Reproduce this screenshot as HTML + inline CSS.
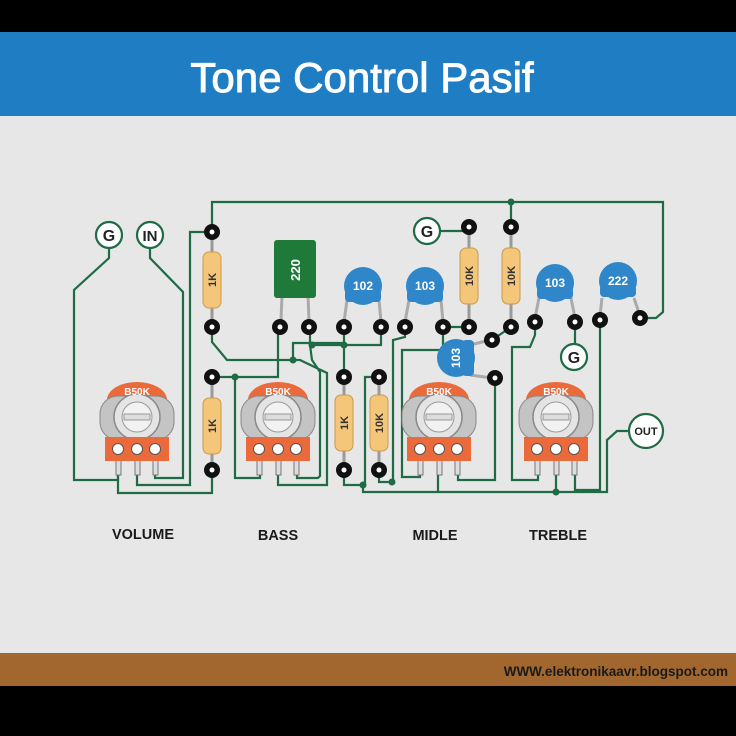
<!DOCTYPE html>
<html><head><meta charset="utf-8"><style>
html,body{margin:0;padding:0;background:#000;}
svg{display:block;}
text{font-family:"Liberation Sans",Arial,sans-serif;}
</style></head><body>
<svg width="736" height="736" viewBox="0 0 736 736" xmlns="http://www.w3.org/2000/svg">
<rect x="0" y="0" width="736" height="736" fill="#000"/>
<rect x="0" y="32" width="736" height="84" fill="#1f7ec3"/>
<text x="362" y="92" text-anchor="middle" font-size="42" fill="#fff" stroke="#fff" stroke-width="0.9">Tone Control Pasif</text>
<rect x="0" y="116" width="736" height="537" fill="#e7e7e7"/>
<rect x="0" y="653" width="736" height="33" fill="#a2672e"/>
<text x="728" y="676" text-anchor="end" font-size="13.5" font-weight="bold" fill="#1a1a1a">WWW.elektronikaavr.blogspot.com</text>

<g fill="none" stroke="#1e6b45" stroke-width="2.2">
<path d="M212 232 V202 H663 V312 L656 318 H640"/>
<path d="M511 202 V227"/>
<path d="M109 248 V258 L74 290 V480 H118 V472"/>
<path d="M150 248 V258 L183 292 V478 H155 V472"/>
<path d="M212 232 H190 V485 H137 V472"/>
<path d="M118 472 V493 H212 V470"/>
<path d="M212 327 V342 L227 360 H293 L300 360 L327 373 V485 H278 V472"/>
<path d="M212 377 H278 V327"/>
<path d="M235 377 V478 H260 V472"/>
<path d="M297 472 V478 H318 L320 476 V372 L312 360 L310 345 V327"/>
<path d="M293 360 V343 H344 V377"/>
<path d="M312 345 H344 L381 345 V327"/>
<path d="M344 327 V345"/>
<path d="M344 470 V485 H363 V492 H556 V472"/>
<path d="M379 377 H365 V485"/>
<path d="M379 470 V482 H393 V340 L405 337 V327"/>
<path d="M443 327 V350 H402 V477 H420 V472"/>
<path d="M443 327 H469"/>
<path d="M438 472 V492"/>
<path d="M495 378 V480 H458 V472"/>
<path d="M492 340 L511 327"/>
<path d="M427 231 H469"/>
<path d="M538 472 V480 H512 V347 H530 L535 335 V322"/>
<path d="M575 472 V490 H600 V320"/>
<path d="M575 322 V344"/>
<path d="M556 492 H607 V440 L617 431 H630"/>
</g>
<g fill="#1e6b45">
<circle cx="511" cy="202" r="3.5"/><circle cx="293" cy="360" r="3.5"/><circle cx="235" cy="377" r="3.5"/>
<circle cx="312" cy="345" r="3.5"/><circle cx="344" cy="345" r="3.5"/><circle cx="363" cy="485" r="3.5"/>
<circle cx="392" cy="482" r="3.5"/><circle cx="556" cy="492" r="3.5"/>
</g>

<g fill="#fff" stroke="#1e6b45" stroke-width="2.2">
<circle cx="109" cy="235" r="13"/><circle cx="150" cy="235" r="13"/>
<circle cx="427" cy="231" r="13"/><circle cx="574" cy="357" r="13"/>
<circle cx="646" cy="431" r="17"/>
</g>
<g font-weight="bold" text-anchor="middle" fill="#222">
<text x="109" y="241" font-size="16">G</text><text x="150" y="241" font-size="15">IN</text>
<text x="427" y="237" font-size="16">G</text><text x="574" y="363" font-size="16">G</text>
<text x="646" y="435" font-size="11">OUT</text>
</g>

<g>
<line x1="282" y1="296" x2="281" y2="320" stroke="#aaa" stroke-width="3"/>
<line x1="308" y1="296" x2="309" y2="320" stroke="#aaa" stroke-width="3"/>
<rect x="274" y="240" width="42" height="58" rx="3" fill="#1f7a3a"/>
<text transform="translate(300 270) rotate(-90)" font-size="13" font-weight="bold" fill="#fff" text-anchor="middle">220</text>
</g>

<g stroke="#9a9a9a" stroke-width="3">
<line x1="212" y1="232" x2="212" y2="327"/><line x1="212" y1="377" x2="212" y2="470"/>
<line x1="344" y1="377" x2="344" y2="470"/><line x1="379" y1="377" x2="379" y2="470"/>
<line x1="469" y1="227" x2="469" y2="327"/><line x1="511" y1="227" x2="511" y2="327"/>
</g>
<g fill="#f4c679" stroke="#c99a4f" stroke-width="1">
<rect x="203" y="252" width="18" height="56" rx="6"/><rect x="203" y="398" width="18" height="56" rx="6"/>
<rect x="335" y="395" width="18" height="56" rx="6"/><rect x="370" y="395" width="18" height="56" rx="6"/>
<rect x="460" y="248" width="18" height="56" rx="6"/><rect x="502" y="248" width="18" height="56" rx="6"/>
</g>
<g font-size="11" font-weight="bold" fill="#333" text-anchor="middle">
<text transform="translate(216 280) rotate(-90)">1K</text>
<text transform="translate(216 426) rotate(-90)">1K</text>
<text transform="translate(348 423) rotate(-90)">1K</text>
<text transform="translate(383 423) rotate(-90)">10K</text>
<text transform="translate(473 276) rotate(-90)">10K</text>
<text transform="translate(515 276) rotate(-90)">10K</text>
</g>

<g stroke="#aaa" stroke-width="3">
<line x1="347" y1="300" x2="344" y2="322"/><line x1="379" y1="300" x2="381" y2="322"/>
<line x1="409" y1="300" x2="405" y2="322"/><line x1="441" y1="300" x2="443" y2="322"/>
<line x1="539" y1="298" x2="535" y2="318"/><line x1="571" y1="298" x2="575" y2="318"/>
<line x1="602" y1="298" x2="600" y2="316"/><line x1="634" y1="298" x2="640" y2="316"/>
<line x1="470" y1="345" x2="490" y2="340"/><line x1="470" y1="375" x2="492" y2="378"/>
</g>
<g fill="#2f87c9">
<circle cx="363" cy="286" r="19"/><rect x="345" y="290" width="36" height="12" rx="4"/>
<circle cx="425" cy="286" r="19"/><rect x="407" y="290" width="36" height="12" rx="4"/>
<circle cx="555" cy="283" r="19"/><rect x="537" y="287" width="36" height="12" rx="4"/>
<circle cx="618" cy="281" r="19"/><rect x="600" y="285" width="36" height="12" rx="4"/>
<circle cx="456" cy="358" r="19"/><rect x="462" y="340" width="12" height="36" rx="4"/>
</g>
<g font-size="12" font-weight="bold" fill="#fff" text-anchor="middle">
<text x="363" y="290">102</text><text x="425" y="290">103</text>
<text x="555" y="287">103</text><text x="618" y="285">222</text>
<text transform="translate(460 358) rotate(-90)">103</text>
</g>

<g fill="#111">
<circle cx="212" cy="232" r="8"/><circle cx="212" cy="327" r="8"/><circle cx="212" cy="377" r="8"/><circle cx="212" cy="470" r="8"/>
<circle cx="280" cy="327" r="8"/><circle cx="309" cy="327" r="8"/>
<circle cx="344" cy="327" r="8"/><circle cx="381" cy="327" r="8"/><circle cx="405" cy="327" r="8"/><circle cx="443" cy="327" r="8"/>
<circle cx="469" cy="227" r="8"/><circle cx="469" cy="327" r="8"/><circle cx="511" cy="227" r="8"/><circle cx="511" cy="327" r="8"/>
<circle cx="344" cy="377" r="8"/><circle cx="344" cy="470" r="8"/><circle cx="379" cy="377" r="8"/><circle cx="379" cy="470" r="8"/>
<circle cx="492" cy="340" r="8"/><circle cx="495" cy="378" r="8"/>
<circle cx="535" cy="322" r="8"/><circle cx="575" cy="322" r="8"/><circle cx="600" cy="320" r="8"/><circle cx="640" cy="318" r="8"/>
</g>
<g fill="#fff">
<circle cx="212" cy="232" r="2.5"/><circle cx="212" cy="327" r="2.5"/><circle cx="212" cy="377" r="2.5"/><circle cx="212" cy="470" r="2.5"/>
<circle cx="280" cy="327" r="2.5"/><circle cx="309" cy="327" r="2.5"/>
<circle cx="344" cy="327" r="2.5"/><circle cx="381" cy="327" r="2.5"/><circle cx="405" cy="327" r="2.5"/><circle cx="443" cy="327" r="2.5"/>
<circle cx="469" cy="227" r="2.5"/><circle cx="469" cy="327" r="2.5"/><circle cx="511" cy="227" r="2.5"/><circle cx="511" cy="327" r="2.5"/>
<circle cx="344" cy="377" r="2.5"/><circle cx="344" cy="470" r="2.5"/><circle cx="379" cy="377" r="2.5"/><circle cx="379" cy="470" r="2.5"/>
<circle cx="492" cy="340" r="2.5"/><circle cx="495" cy="378" r="2.5"/>
<circle cx="535" cy="322" r="2.5"/><circle cx="575" cy="322" r="2.5"/><circle cx="600" cy="320" r="2.5"/><circle cx="640" cy="318" r="2.5"/>
</g>

<g transform="translate(137 0)">
<rect x="-21" y="458" width="5" height="17" fill="#ddd" stroke="#777"/><rect x="-2" y="458" width="5" height="17" fill="#ddd" stroke="#777"/><rect x="16" y="458" width="5" height="17" fill="#ddd" stroke="#777"/>
<path d="M-30 400 A30 18 0 0 1 30 400 Z" fill="#ea6a3c"/>
<rect x="-37" y="396" width="74" height="44" rx="18" fill="#c4c4c4" stroke="#888"/>
<circle cx="0" cy="417" r="23" fill="#e4e4e4" stroke="#8a8a8a" stroke-width="1.5"/>
<circle cx="0" cy="417" r="15" fill="#f2f2f2" stroke="#999"/>
<rect x="-13" y="414" width="26" height="6" fill="#ddd" stroke="#999"/>
<rect x="-32" y="437" width="64" height="24" fill="#ea6a3c"/>
<circle cx="-19" cy="449" r="5.5" fill="#fff" stroke="#555"/><circle cx="0" cy="449" r="5.5" fill="#fff" stroke="#555"/><circle cx="18" cy="449" r="5.5" fill="#fff" stroke="#555"/>
<text x="0" y="395" font-size="10" font-weight="bold" fill="#fff" text-anchor="middle">B50K</text>
</g>
<g transform="translate(278 0)">
<rect x="-21" y="458" width="5" height="17" fill="#ddd" stroke="#777"/><rect x="-2" y="458" width="5" height="17" fill="#ddd" stroke="#777"/><rect x="16" y="458" width="5" height="17" fill="#ddd" stroke="#777"/>
<path d="M-30 400 A30 18 0 0 1 30 400 Z" fill="#ea6a3c"/>
<rect x="-37" y="396" width="74" height="44" rx="18" fill="#c4c4c4" stroke="#888"/>
<circle cx="0" cy="417" r="23" fill="#e4e4e4" stroke="#8a8a8a" stroke-width="1.5"/>
<circle cx="0" cy="417" r="15" fill="#f2f2f2" stroke="#999"/>
<rect x="-13" y="414" width="26" height="6" fill="#ddd" stroke="#999"/>
<rect x="-32" y="437" width="64" height="24" fill="#ea6a3c"/>
<circle cx="-19" cy="449" r="5.5" fill="#fff" stroke="#555"/><circle cx="0" cy="449" r="5.5" fill="#fff" stroke="#555"/><circle cx="18" cy="449" r="5.5" fill="#fff" stroke="#555"/>
<text x="0" y="395" font-size="10" font-weight="bold" fill="#fff" text-anchor="middle">B50K</text>
</g>
<g transform="translate(439 0)">
<rect x="-21" y="458" width="5" height="17" fill="#ddd" stroke="#777"/><rect x="-2" y="458" width="5" height="17" fill="#ddd" stroke="#777"/><rect x="16" y="458" width="5" height="17" fill="#ddd" stroke="#777"/>
<path d="M-30 400 A30 18 0 0 1 30 400 Z" fill="#ea6a3c"/>
<rect x="-37" y="396" width="74" height="44" rx="18" fill="#c4c4c4" stroke="#888"/>
<circle cx="0" cy="417" r="23" fill="#e4e4e4" stroke="#8a8a8a" stroke-width="1.5"/>
<circle cx="0" cy="417" r="15" fill="#f2f2f2" stroke="#999"/>
<rect x="-13" y="414" width="26" height="6" fill="#ddd" stroke="#999"/>
<rect x="-32" y="437" width="64" height="24" fill="#ea6a3c"/>
<circle cx="-19" cy="449" r="5.5" fill="#fff" stroke="#555"/><circle cx="0" cy="449" r="5.5" fill="#fff" stroke="#555"/><circle cx="18" cy="449" r="5.5" fill="#fff" stroke="#555"/>
<text x="0" y="395" font-size="10" font-weight="bold" fill="#fff" text-anchor="middle">B50K</text>
</g>
<g transform="translate(556 0)">
<rect x="-21" y="458" width="5" height="17" fill="#ddd" stroke="#777"/><rect x="-2" y="458" width="5" height="17" fill="#ddd" stroke="#777"/><rect x="16" y="458" width="5" height="17" fill="#ddd" stroke="#777"/>
<path d="M-30 400 A30 18 0 0 1 30 400 Z" fill="#ea6a3c"/>
<rect x="-37" y="396" width="74" height="44" rx="18" fill="#c4c4c4" stroke="#888"/>
<circle cx="0" cy="417" r="23" fill="#e4e4e4" stroke="#8a8a8a" stroke-width="1.5"/>
<circle cx="0" cy="417" r="15" fill="#f2f2f2" stroke="#999"/>
<rect x="-13" y="414" width="26" height="6" fill="#ddd" stroke="#999"/>
<rect x="-32" y="437" width="64" height="24" fill="#ea6a3c"/>
<circle cx="-19" cy="449" r="5.5" fill="#fff" stroke="#555"/><circle cx="0" cy="449" r="5.5" fill="#fff" stroke="#555"/><circle cx="18" cy="449" r="5.5" fill="#fff" stroke="#555"/>
<text x="0" y="395" font-size="10" font-weight="bold" fill="#fff" text-anchor="middle">B50K</text>
</g>

<g font-size="14.5" font-weight="bold" fill="#1a1a1a" text-anchor="middle">
<text x="143" y="539">VOLUME</text><text x="278" y="540">BASS</text>
<text x="435" y="540">MIDLE</text><text x="558" y="540">TREBLE</text>
</g>
</svg>
</body></html>
